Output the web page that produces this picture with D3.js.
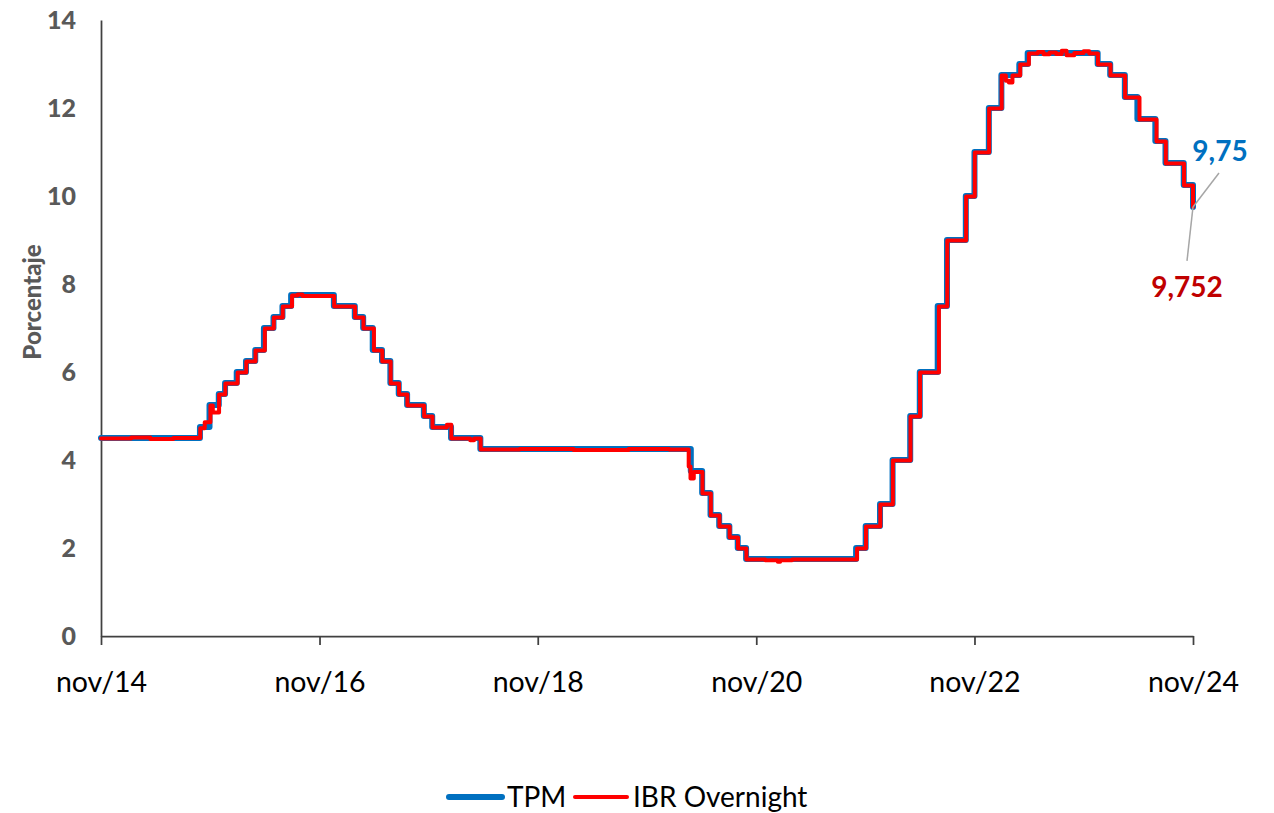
<!DOCTYPE html>
<html>
<head>
<meta charset="utf-8">
<script src="https://cdn.jsdelivr.net/npm/d3@7"></script>
<style>
  body { margin: 0; background: #fff; }
  svg text { font-family: Lato, "Open Sans", sans-serif; }
</style>
</head>
<body>
<div id="chart"></div>
<script>
// TPM: dates where the policy rate changed, and the new rate
const tpmDates = ["2014-11-01","2015-09-28","2015-10-30","2015-11-30","2015-12-21","2016-01-29","2016-02-29","2016-03-31","2016-04-29","2016-05-31","2016-06-30","2016-07-29","2016-12-19","2017-02-27","2017-03-27","2017-04-28","2017-05-29","2017-06-26","2017-07-24","2017-08-21","2017-10-16","2017-11-13","2018-01-15","2018-04-23","2020-03-27","2020-05-04","2020-06-01","2020-06-30","2020-08-03","2020-08-31","2020-09-28","2021-10-01","2021-11-02","2021-12-20","2022-01-31","2022-03-31","2022-05-02","2022-07-01","2022-08-01","2022-10-03","2022-11-01","2022-12-19","2023-01-30","2023-03-31","2023-04-28","2023-12-18","2024-01-29","2024-03-18","2024-04-29","2024-06-28","2024-08-01","2024-10-01","2024-11-01"];
const tpmRates = [4.50,4.75,5.25,5.50,5.75,6.00,6.25,6.50,7.00,7.25,7.50,7.75,7.50,7.25,7.00,6.50,6.25,5.75,5.50,5.25,5.00,4.75,4.50,4.25,3.75,3.25,2.75,2.50,2.25,2.00,1.75,2.00,2.50,3.00,4.00,5.00,6.00,7.50,9.00,10.00,11.00,12.00,12.75,13.00,13.25,13.00,12.75,12.25,11.75,11.25,10.75,10.25,9.75];

// IBR overnight (follows TPM with small deviations)
const ibrDates = ["2014-11-01","2015-02-10","2015-04-15","2015-07-01","2015-09-29","2015-10-14","2015-11-02","2015-11-10","2015-12-01","2015-12-22","2016-02-01","2016-03-01","2016-04-01","2016-05-02","2016-06-01","2016-07-01","2016-08-01","2016-08-20","2016-09-05","2016-12-20","2017-02-28","2017-03-28","2017-05-02","2017-05-30","2017-06-27","2017-07-25","2017-08-22","2017-10-17","2017-11-14","2018-01-01","2018-01-16","2018-03-20","2018-04-02","2018-04-24","2018-09-01","2019-03-01","2019-09-01","2020-01-15","2020-03-20","2020-03-26","2020-04-06","2020-05-05","2020-06-02","2020-07-01","2020-08-04","2020-09-01","2020-09-29","2020-12-01","2021-01-12","2021-01-20","2021-03-01","2021-10-04","2021-11-03","2021-12-21","2022-02-01","2022-04-01","2022-05-03","2022-07-05","2022-08-02","2022-10-04","2022-11-02","2022-12-20","2023-01-31","2023-02-14","2023-02-24","2023-03-08","2023-04-03","2023-05-02","2023-06-01","2023-06-20","2023-07-10","2023-08-01","2023-08-20","2023-09-05","2023-10-01","2023-11-01","2023-11-20","2023-12-19","2024-01-30","2024-03-19","2024-05-06","2024-07-02","2024-08-02","2024-10-02","2024-11-01"];
const ibrRates = [4.49,4.51,4.48,4.50,4.72,4.86,5.24,5.08,5.49,5.74,5.99,6.24,6.49,6.99,7.24,7.49,7.74,7.76,7.73,7.49,7.24,6.99,6.49,6.24,5.74,5.49,5.24,4.99,4.74,4.80,4.49,4.45,4.49,4.24,4.25,4.23,4.25,4.24,3.85,3.58,3.73,3.24,2.74,2.49,2.24,1.99,1.74,1.72,1.69,1.72,1.74,1.99,2.49,2.99,3.99,4.99,5.99,7.49,8.99,9.99,10.99,11.99,12.74,12.62,12.58,12.74,12.99,13.24,13.27,13.22,13.26,13.23,13.30,13.20,13.25,13.29,13.24,12.99,12.74,12.24,11.74,11.24,10.74,10.24,9.752];

const xTickDates = ["2014-11-01","2016-11-01","2018-11-01","2020-11-01","2022-11-01","2024-11-01"];
const xTickLabels = ["nov/14","nov/16","nov/18","nov/20","nov/22","nov/24"];
const yTicks = [0, 2, 4, 6, 8, 10, 12, 14];
const legendLabels = ["TPM", "IBR Overnight"];
const lastLabels = ["9,75", "9,752"];

const parse = d3.timeParse("%Y-%m-%d");
const tpm = tpmDates.map((d, i) => ({ date: parse(d), value: tpmRates[i] }));
const ibr = ibrDates.map((d, i) => ({ date: parse(d), value: ibrRates[i] }));

const W = 1274, H = 813;
const margin = { top: 20, right: 81, bottom: 177, left: 101 };
const width = W - margin.left - margin.right,
      height = H - margin.top - margin.bottom;

const svg = d3.select("#chart").append("svg")
    .attr("width", W)
    .attr("height", H);
const g = svg.append("g")
    .attr("transform", "translate(" + margin.left + "," + margin.top + ")");

const x = d3.scaleTime()
  .domain([parse(xTickDates[0]), parse(xTickDates[xTickDates.length - 1])])
  .range([0, width]);
const y = d3.scaleLinear()
  .domain([0, 14])
  .range([height, 0]);

// y axis (no tick marks)
const yAxis = g.append("g")
  .call(d3.axisLeft(y).tickValues(yTicks).tickSize(0).tickPadding(25).tickFormat(d3.format("d")));
yAxis.select(".domain").attr("stroke", "#404040").attr("stroke-width", 1.75);
yAxis.selectAll("text")
  .attr("font-size", 25).attr("font-weight", "900").attr("fill", "#595959")
  .style("font-family", "Lato, sans-serif");

// x axis
const xAxis = g.append("g")
  .attr("transform", "translate(0," + height + ")")
  .call(d3.axisBottom(x)
    .tickValues(xTickDates.map(parse))
    .tickSize(9).tickSizeOuter(0).tickPadding(27)
    .tickFormat((d, i) => xTickLabels[i]));
xAxis.select(".domain").attr("stroke", "#404040").attr("stroke-width", 1.75);
xAxis.selectAll(".tick line").attr("stroke", "#404040").attr("stroke-width", 1.75);
xAxis.selectAll("text")
  .attr("font-size", 28.5).attr("fill", "#000")
  .style("font-family", "Lato, sans-serif");

// y axis title
svg.append("text")
  .attr("transform", "translate(41,302) rotate(-90)")
  .attr("text-anchor", "middle")
  .attr("font-size", 24).attr("font-weight", "900").attr("fill", "#595959")
  .text("Porcentaje");

const line = d3.line()
  .x(d => x(d.date))
  .y(d => y(d.value))
  .curve(d3.curveStepAfter);

g.append("path").datum(tpm)
  .attr("d", line)
  .attr("fill", "none").attr("stroke", "#0070C0").attr("stroke-width", 6)
  .attr("stroke-linejoin", "round").attr("stroke-linecap", "round");
g.append("path").datum(ibr)
  .attr("d", line)
  .attr("fill", "none").attr("stroke", "#FF0000").attr("stroke-width", 4)
  .attr("stroke-linejoin", "round").attr("stroke-linecap", "round");

// end labels with leader lines
const lastT = tpm[tpm.length - 1], lastI = ibr[ibr.length - 1];
const ex = x(lastT.date), eyT = y(lastT.value), eyI = y(lastI.value);
g.append("line")
  .attr("x1", ex + 26).attr("y1", eyT - 34).attr("x2", ex).attr("y2", eyT)
  .attr("stroke", "#A6A6A6").attr("stroke-width", 1.5);
g.append("line")
  .attr("x1", ex - 6).attr("y1", eyI + 54).attr("x2", ex).attr("y2", eyI)
  .attr("stroke", "#A6A6A6").attr("stroke-width", 1.5);
g.append("text")
  .attr("x", ex + 27).attr("y", eyT - 46)
  .attr("text-anchor", "middle")
  .attr("font-size", 28).attr("font-weight", "bold").attr("fill", "#0070C0")
  .text(lastLabels[0]);
g.append("text")
  .attr("x", ex - 6).attr("y", eyI + 90)
  .attr("text-anchor", "middle")
  .attr("font-size", 28).attr("font-weight", "bold").attr("fill", "#C00000")
  .text(lastLabels[1]);

// legend
const legend = svg.append("g").attr("transform", "translate(0,797)");
const legendItems = [
  { label: legendLabels[0], color: "#0070C0", w: 6, x0: 449, x1: 502, tx: 507 },
  { label: legendLabels[1], color: "#FF0000", w: 4, x0: 575, x1: 627, tx: 633 }
];
legendItems.forEach(it => {
  legend.append("line")
    .attr("x1", it.x0).attr("x2", it.x1).attr("y1", 0).attr("y2", 0)
    .attr("stroke", it.color).attr("stroke-width", it.w).attr("stroke-linecap", "round");
  legend.append("text")
    .attr("x", it.tx).attr("y", 0).attr("dy", "0.36em")
    .attr("font-size", 28).attr("fill", "#000")
    .text(it.label);
});
</script>
</body>
</html>
